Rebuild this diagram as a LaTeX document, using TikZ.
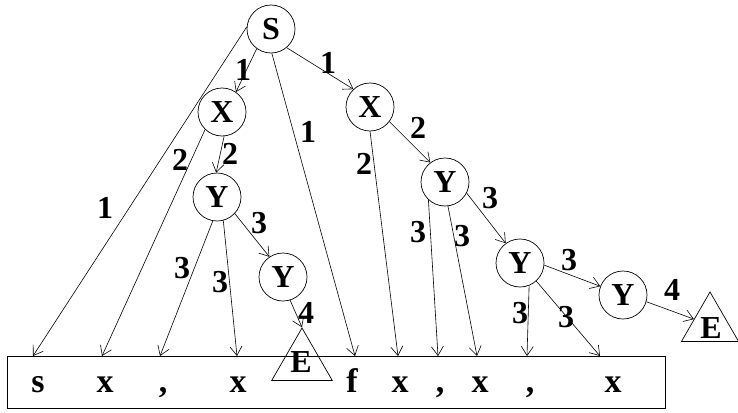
\documentclass[tikz,border=0pt]{standalone}
\usepackage{fontspec}
\setmainfont{Liberation Serif}
\usetikzlibrary{arrows.meta,shapes.geometric}
\begin{document}
\begin{tikzpicture}[x=1pt,y=-1pt,
  font=\bfseries\fontsize{32}{32}\selectfont,
  nt/.style={circle,draw,line width=0.7pt,minimum size=48pt,inner sep=0pt},
  tri/.style={regular polygon,regular polygon sides=3,draw,line width=0.7pt,minimum size=#1,inner sep=0pt},
  lbl/.style={inner sep=0pt},
  ch/.style={inner sep=0pt,anchor=base,font=\bfseries\fontsize{34}{34}\selectfont},
  ar/.style={line width=0.6pt,-{Straight Barb[length=9pt,width=12pt,line width=0.6pt]}}]
\useasboundingbox (0,0) rectangle (738,412);
% tape
\node[draw,line width=0.8pt,minimum width=658pt,minimum height=52pt,inner sep=0pt] (tape) at (336,382) {};
\node[ch] (c1) at (38,392) {s};
\node[ch] (c2) at (105,392) {x};
\node[ch] (c3) at (163,392) {,};
\node[ch] (c4) at (238,392) {x};
\node[ch] (c5) at (352,392) {f};
\node[ch] (c6) at (400,392) {x};
\node[ch] (c7) at (440,392) {,};
\node[ch] (c8) at (480,392) {x};
\node[ch] (c9) at (530,392) {,};
\node[ch] (c10) at (613,392) {x};
\coordinate (t1) at (33,356);
\coordinate (t2) at (102,356);
\coordinate (t3) at (160,356);
\coordinate (t4) at (237,356);
\coordinate (t5) at (355,356);
\coordinate (t6) at (398,356);
\coordinate (t7) at (438,356);
\coordinate (t8) at (477,356);
\coordinate (t9) at (527,356);
\coordinate (t10) at (600,356);
% nonterminals
\node[nt] (S) at (271,29) {S};
\node[nt] (X1) at (222,112) {X};
\node[nt] (X2) at (370,107) {X};
\node[nt] (Y1) at (217,197) {Y};
\node[nt] (Y2) at (283,277) {Y};
\node[nt] (Y3) at (445,182) {Y};
\node[nt] (Y4) at (520,263) {Y};
\node[nt] (Y5) at (623,295) {Y};
\node[tri=70pt] (E1) at (302,363) {};
\node[lbl] at (301,362) {E};
\node[tri=66pt] (E2) at (710,325) {};
\node[lbl] at (711,328) {E};
% edges
\draw[ar] (S.175) -- (t1);
\draw[ar] (S.234) -- (X1.55);
\draw[ar] (S.272) -- (t5);
\draw[ar] (S.310) -- (X2.133);
\draw[ar] (X1.226) -- (t2);
\draw[ar] (X1.275) -- (Y1.92);
\draw[ar] (Y1.260) -- (t3);
\draw[ar] (Y1.285) -- (t4);
\draw[ar] (Y1.317) -- (Y2.124);
\draw[ar] (Y2.287) -- (E1.corner 1);
\draw[ar] (X2.270) -- (t6);
\draw[ar] (X2.323) -- (Y3.127);
\draw[ar] (Y3.227) -- (t7);
\draw[ar] (Y3.277) -- (t8);
\draw[ar] (Y3.333) -- (Y4.126);
\draw[ar] (Y4.292) -- (t9);
\draw[ar] (Y4.312) -- (t10);
\draw[ar] (Y4.355) -- (Y5.159);
\draw[ar] (Y5.344) -- (E2);
% labels
\node[lbl] at (105,208) {1};
\node[lbl] at (243,70) {1};
\node[lbl] at (308,132) {1};
\node[lbl] at (328,63) {1};
\node[lbl] at (180,160) {2};
\node[lbl] at (230,154) {2};
\node[lbl] at (182,268) {3};
\node[lbl] at (220,282) {3};
\node[lbl] at (259,223) {3};
\node[lbl] at (306,313) {4};
\node[lbl] at (364,164) {2};
\node[lbl] at (418,128) {2};
\node[lbl] at (418,232) {3};
\node[lbl] at (462,236) {3};
\node[lbl] at (490,198) {3};
\node[lbl] at (520,313) {3};
\node[lbl] at (566,317) {3};
\node[lbl] at (569,260) {3};
\node[lbl] at (672,290) {4};
\end{tikzpicture}
\end{document}
